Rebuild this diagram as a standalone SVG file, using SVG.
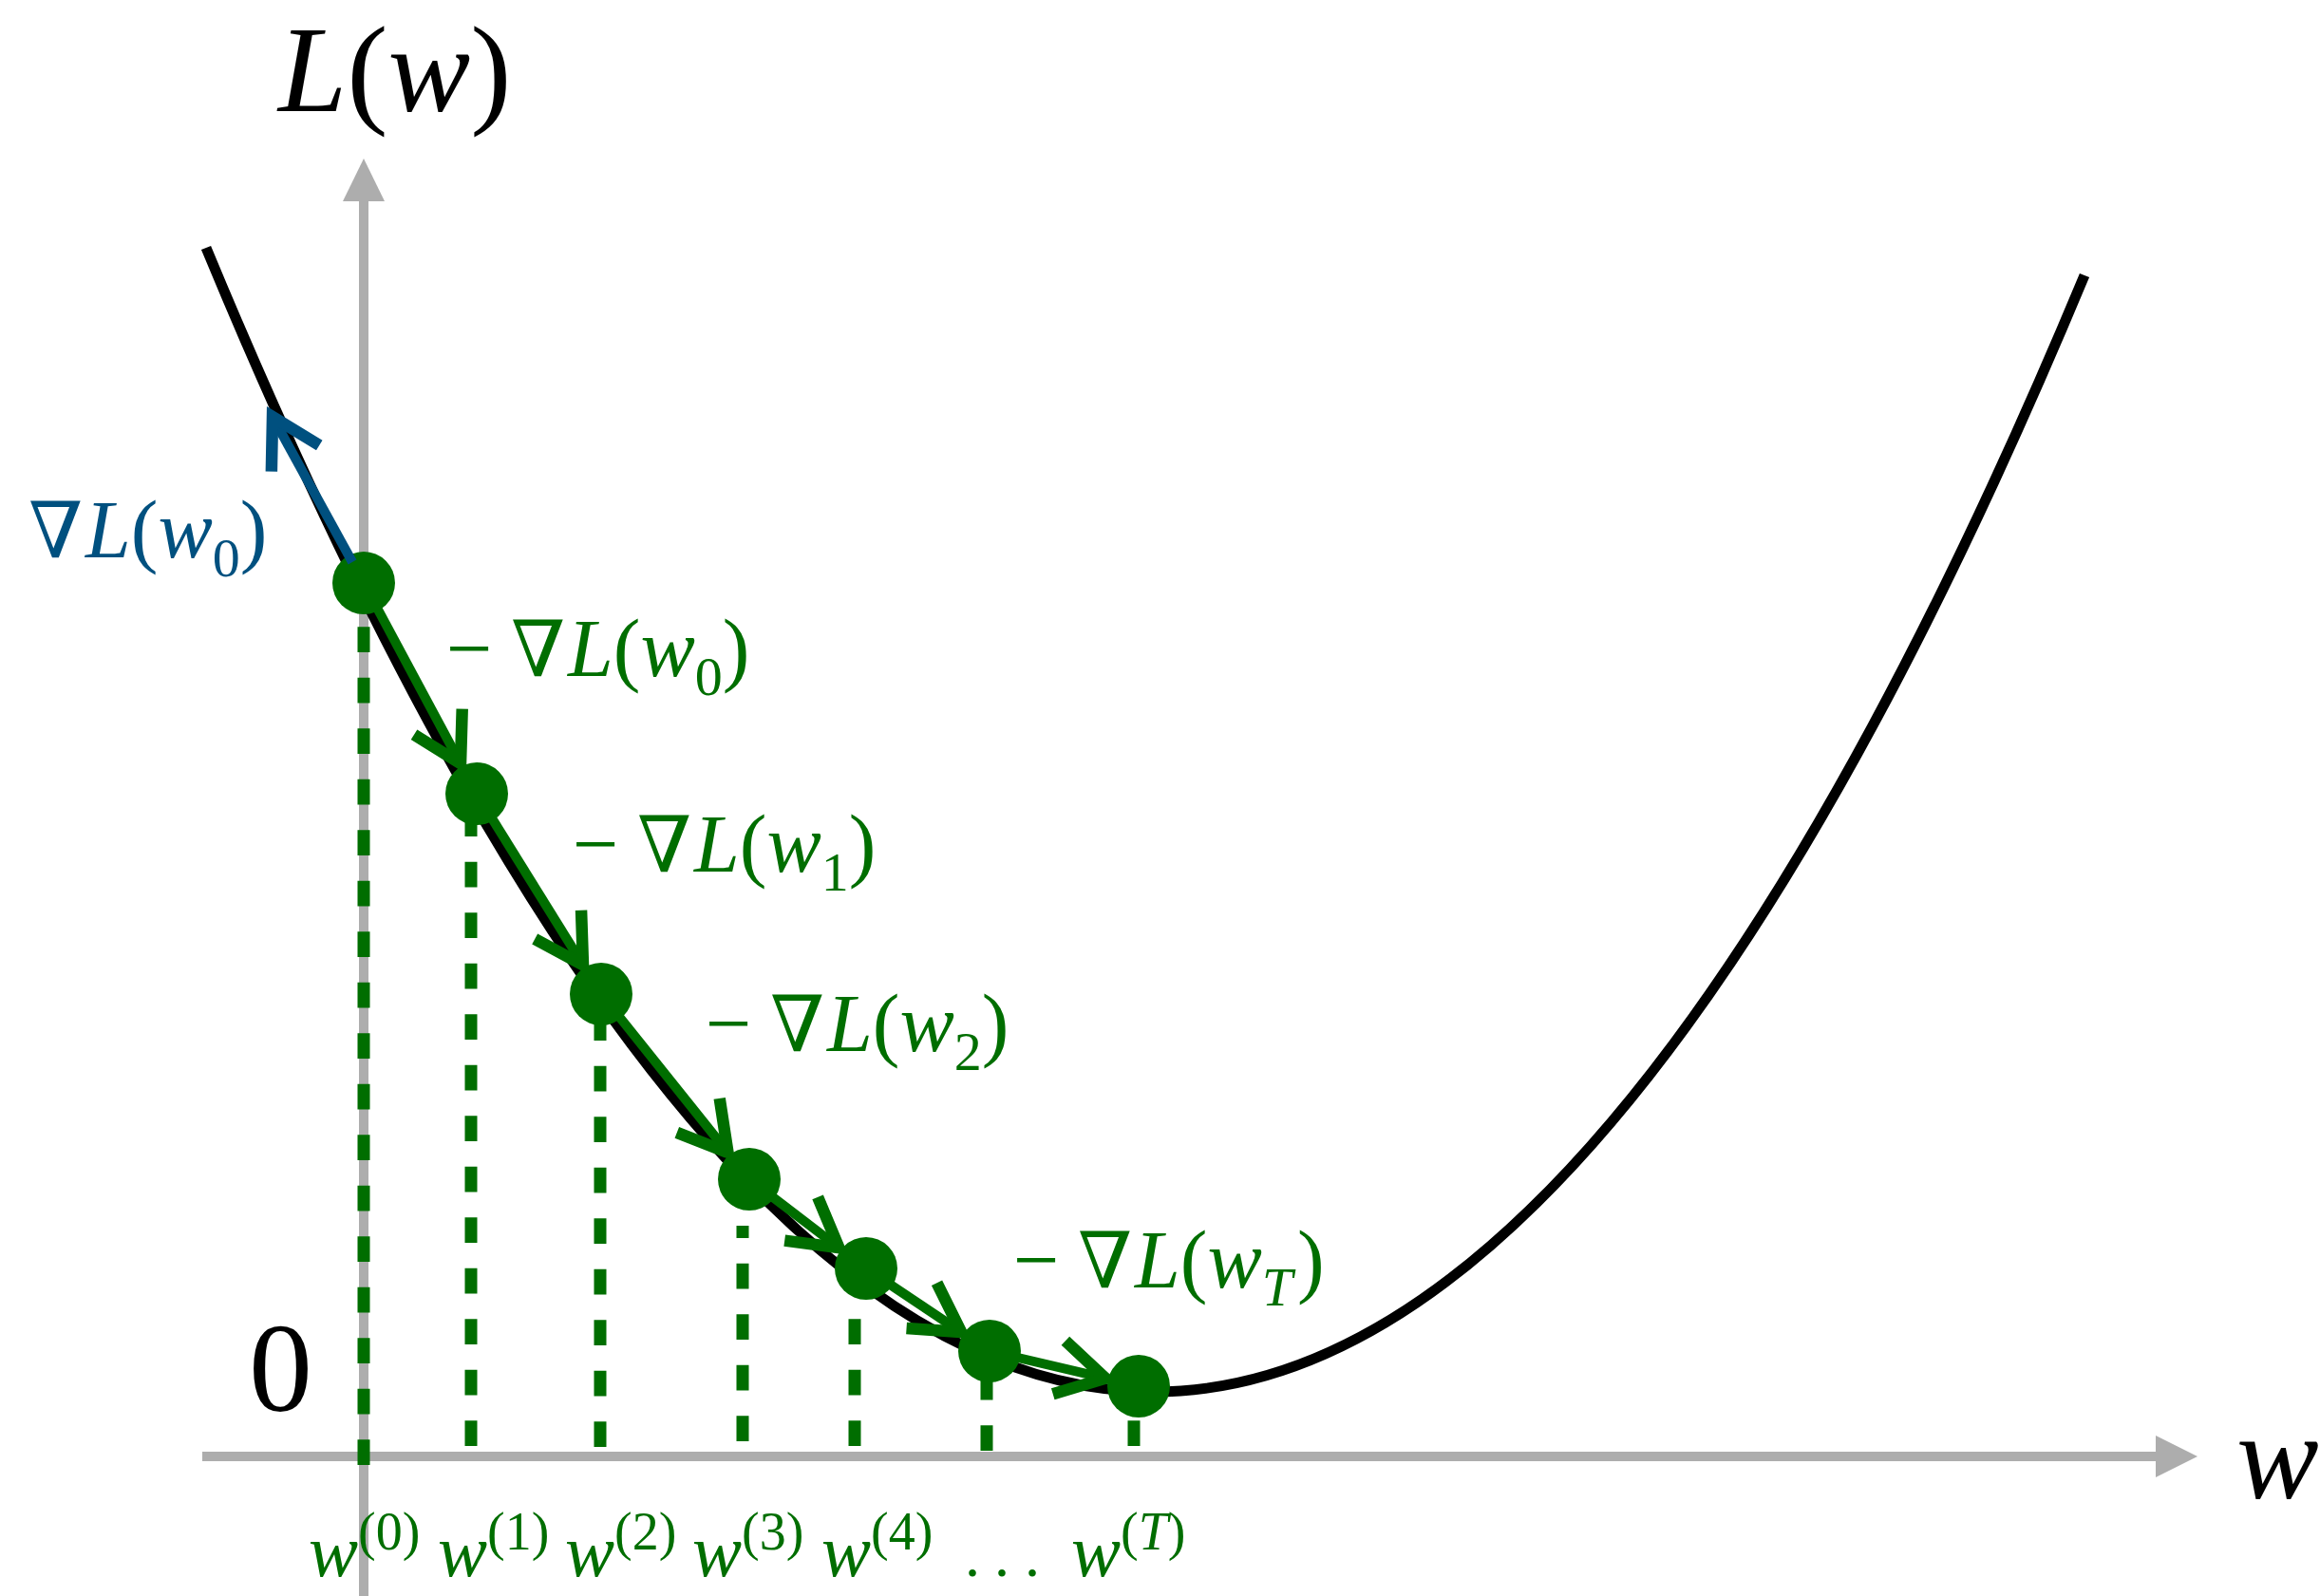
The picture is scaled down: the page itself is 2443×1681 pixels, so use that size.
<svg xmlns="http://www.w3.org/2000/svg" width="2443" height="1681" viewBox="0 0 2443 1681">
<style>
.t { font-family: "Liberation Serif", "Times New Roman", "DejaVu Serif", serif; }
.it { font-style: italic; }
.nab { font-family: "Liberation Serif", "DejaVu Serif", serif; }
.g { fill: #006e00; }
.b { fill: #00507f; }
.k { fill: #000; }
.axis { stroke: #adadad; stroke-width: 10; fill: none; }
.axhead { fill: #adadad; }
.dash { stroke: #006e00; stroke-width: 13; stroke-dasharray: 26.75 26.75; fill: none; }
.step { stroke: #006e00; stroke-width: 10; fill: none; marker-end: url(#ag); }
.grad { stroke: #00507f; stroke-width: 10; fill: none; marker-end: url(#ab); }
.dot { fill: #006e00; }
</style>
<defs>
<marker id="ag" markerUnits="userSpaceOnUse" orient="auto" refX="0" refY="0" markerWidth="100" markerHeight="100" viewBox="-60 -40 80 80" overflow="visible">
<path d="M-40,-23 L0,0 L-40,23" fill="none" stroke="#006e00" stroke-width="10"/>
</marker>
<marker id="ab" markerUnits="userSpaceOnUse" orient="auto" refX="0" refY="0" markerWidth="100" markerHeight="100" viewBox="-60 -40 80 80" overflow="visible">
<path d="M-40,-23 L0,0 L-40,23" fill="none" stroke="#00507f" stroke-width="10"/>
</marker>
</defs>
<rect width="2443" height="1681" fill="#fff"/>

<g id="axes">
<line class="axis" x1="383" y1="1681" x2="383" y2="208"/>
<polygon class="axhead" points="361,212 405,212 383,167"/>
<line class="axis" x1="213" y1="1534" x2="2273" y2="1534"/>
<polygon class="axhead" points="2270,1512 2270,1556 2314,1534"/>
</g>

<g id="dropLines">
<path class="dash" d="M383,1543 V614"/>
<path class="dash" d="M496,1523 V836"/>
<path class="dash" d="M632,1524 V1047"/>
<path class="dash" d="M782,1518 V1291"/>
<path class="dash" d="M900,1523 V1336"/>
<path class="dash" d="M1039,1528 V1423"/>
<path class="dash" d="M1194,1523 V1460"/>
</g>

<g id="lossCurve">
<path d="M217,261 Q716,1466 1215,1466 Q1705,1466 2195,290" fill="none" stroke="#000" stroke-width="11"/>
</g>

<g id="connectors">
<path class="step" d="M383,614 L485.0,804.3"/>
<path class="step" d="M502,836 L614.0,1016.4"/>
<path class="step" d="M633,1047 L766.5,1213.9"/>
<path class="step" d="M789,1242 L883.4,1314.1"/>
<path class="step" d="M912,1336 L1012.1,1403.0"/>
<path class="step" d="M1042,1423 L1164.0,1451.7"/>
</g>

<g id="iterates">
<circle id="w0" class="dot" cx="383" cy="614" r="33"/>
<circle id="w1" class="dot" cx="502" cy="836" r="33"/>
<circle id="w2" class="dot" cx="633" cy="1047" r="33"/>
<circle id="w3" class="dot" cx="789" cy="1242" r="33"/>
<circle id="w4" class="dot" cx="912" cy="1336" r="33"/>
<circle id="w5" class="dot" cx="1042" cy="1423" r="33"/>
<circle id="wT" class="dot" cx="1199" cy="1460" r="33"/>
</g>

<g id="gradientArrow">
<path class="grad" d="M371,592 L287,439"/>
</g>

<g id="axisLabels">
<text class="t k" font-size="130" y="117"><tspan x="293" class="it">L</tspan><tspan>(</tspan><tspan class="it">w</tspan><tspan>)</tspan></text>
<text class="t k it" font-size="130" x="2355" y="1578">w</text>
<text class="t k" font-size="134" x="262" y="1486">0</text>
</g>

<g id="gradLabel">
<text class="t b" font-size="86" y="587"><tspan x="30" class="nab" font-size="82">∇</tspan><tspan x="90" class="it">L</tspan><tspan>(</tspan><tspan class="it">w</tspan><tspan font-size="58" dy="20">0</tspan><tspan dy="-20">)</tspan></text>
</g>

<g id="stepLabels">
<text class="t g" font-size="86" y="712"><tspan x="470">−</tspan><tspan x="538" class="nab" font-size="82">∇</tspan><tspan x="598" class="it">L</tspan><tspan>(</tspan><tspan class="it">w</tspan><tspan font-size="58" dy="20">0</tspan><tspan dy="-20">)</tspan></text>
<text class="t g" font-size="86" y="918"><tspan x="603">−</tspan><tspan x="671" class="nab" font-size="82">∇</tspan><tspan x="731" class="it">L</tspan><tspan>(</tspan><tspan class="it">w</tspan><tspan font-size="58" dy="20">1</tspan><tspan dy="-20">)</tspan></text>
<text class="t g" font-size="86" y="1107"><tspan x="743">−</tspan><tspan x="811" class="nab" font-size="82">∇</tspan><tspan x="871" class="it">L</tspan><tspan>(</tspan><tspan class="it">w</tspan><tspan font-size="58" dy="20">2</tspan><tspan dy="-20">)</tspan></text>
<text class="t g" font-size="86" y="1356"><tspan x="1067">−</tspan><tspan x="1135" class="nab" font-size="82">∇</tspan><tspan x="1195" class="it">L</tspan><tspan>(</tspan><tspan class="it">w</tspan><tspan font-size="58" dy="19" class="it">T</tspan><tspan x="1366" dy="-19">)</tspan></text>
</g>

<g id="iterateLabels">
<text class="t g" font-size="78" y="1660"><tspan x="325" class="it">w</tspan><tspan font-size="56" dy="-28">(0)</tspan></text>
<text class="t g" font-size="78" y="1660"><tspan x="461" class="it">w</tspan><tspan font-size="56" dy="-28">(1)</tspan></text>
<text class="t g" font-size="78" y="1660"><tspan x="595" class="it">w</tspan><tspan font-size="56" dy="-28">(2)</tspan></text>
<text class="t g" font-size="78" y="1660"><tspan x="729" class="it">w</tspan><tspan font-size="56" dy="-28">(3)</tspan></text>
<text class="t g" font-size="78" y="1660"><tspan x="865" class="it">w</tspan><tspan font-size="56" dy="-28">(4)</tspan></text>
<text class="t g" font-size="64" x="1016 1047 1079" y="1660">...</text>
<text class="t g" font-size="78" y="1660"><tspan x="1128" class="it">w</tspan><tspan font-size="56" dy="-28">(</tspan><tspan font-size="56" class="it">T</tspan><tspan font-size="56">)</tspan></text>
</g>
</svg>
